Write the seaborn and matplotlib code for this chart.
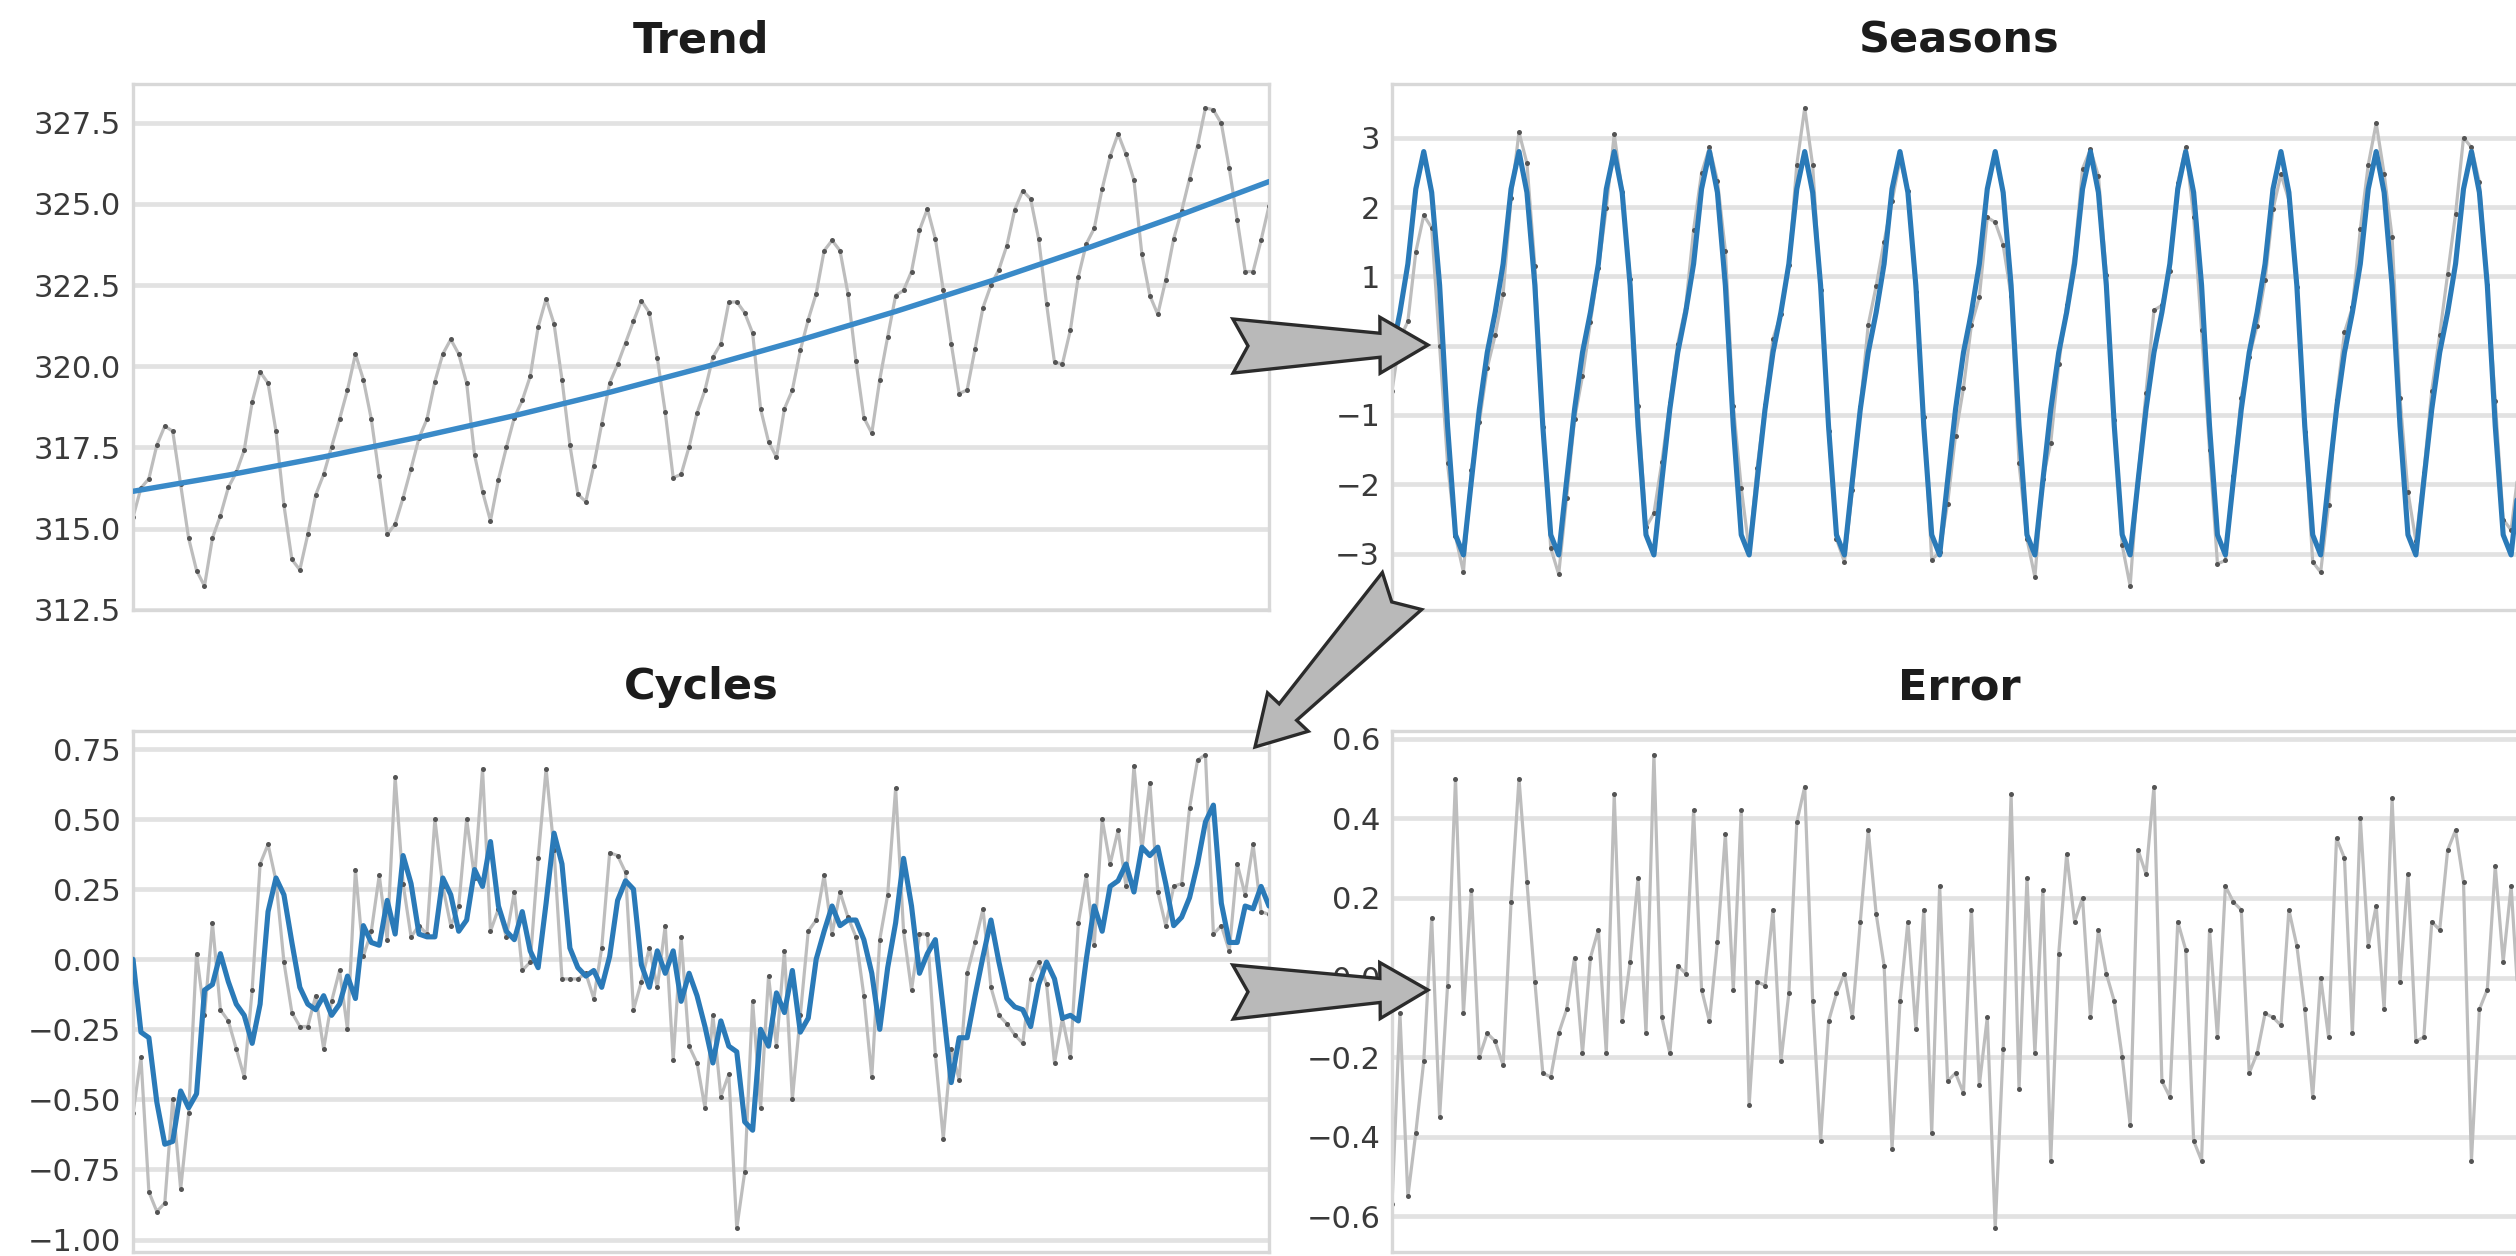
import numpy as np
import pandas as pd
import matplotlib
matplotlib.use("Agg")
import matplotlib.pyplot as plt
import seaborn as sns
from matplotlib.patches import Polygon
from matplotlib.ticker import ScalarFormatter

# ---------------------------------------------------------------- data
# monthly observations (index 0..143)
observed = [
    315.35, 316.25, 316.54, 317.57, 318.16, 318.00, 316.36, 314.71, 313.71, 313.23, 314.71, 315.40,
    316.27, 316.73, 317.42, 318.90, 319.83, 319.48, 318.00, 315.72, 314.05, 313.73, 314.82, 316.04,
    316.67, 317.52, 318.37, 319.27, 320.38, 319.59, 318.37, 316.62, 314.82, 315.14, 315.95, 316.85,
    317.79, 318.37, 319.53, 320.38, 320.83, 320.38, 319.48, 317.26, 316.14, 315.24, 316.51, 317.50,
    318.42, 318.95, 319.69, 321.21, 322.08, 321.31, 319.59, 317.57, 316.06, 315.83, 316.94, 318.23,
    319.48, 320.06, 320.72, 321.39, 322.02, 321.65, 320.25, 318.58, 316.57, 316.67, 317.52, 318.56,
    319.27, 320.28, 320.70, 321.97, 321.99, 321.65, 321.02, 318.69, 317.68, 317.20, 318.69, 319.27,
    320.49, 321.44, 322.24, 323.56, 323.88, 323.56, 322.24, 320.17, 318.42, 317.94, 319.59, 320.91,
    322.18, 322.34, 322.92, 324.19, 324.85, 323.93, 322.34, 320.70, 319.16, 319.27, 320.54, 321.81,
    322.50, 322.98, 323.72, 324.83, 325.41, 325.15, 323.93, 321.92, 320.12, 320.08, 321.12, 322.76,
    323.77, 324.25, 325.47, 326.47, 327.16, 326.53, 325.73, 323.45, 322.18, 321.60, 322.66, 323.93,
    324.78, 325.78, 326.79, 327.96, 327.90, 327.48, 326.10, 324.51, 322.92, 322.92, 323.88, 324.94,
]

# fitted trend, read once a year
trend_months = [0, 12, 24, 36, 48, 60, 72, 84, 96, 108, 120, 132, 143]
trend_values = [316.15, 316.65, 317.21, 317.82, 318.48, 319.20, 319.98,
                320.81, 321.69, 322.63, 323.63, 324.68, 325.69]

# observations minus trend
detrended = [
    -0.65, 0.10, 0.35, 1.35, 1.88, 1.70, 0.00, -1.70, -2.75, -3.27, -1.80, -1.10,
    -0.32, 0.15, 0.75, 2.13, 3.08, 2.63, 1.15, -1.18, -2.92, -3.30, -2.20, -1.06,
    -0.44, 0.34, 1.12, 1.98, 3.05, 2.22, 0.96, -0.87, -2.62, -2.42, -1.68, -0.83,
    0.03, 0.56, 1.67, 2.49, 2.86, 2.38, 1.37, -0.87, -2.05, -2.95, -1.77, -0.86,
    0.10, 0.45, 1.16, 2.61, 3.43, 2.60, 0.80, -1.23, -2.79, -3.12, -2.09, -0.89,
    0.30, 0.86, 1.50, 2.08, 2.68, 2.23, 0.77, -1.03, -3.09, -2.98, -2.28, -1.30,
    -0.61, 0.30, 0.70, 1.85, 1.78, 1.45, 0.72, -1.70, -2.79, -3.34, -1.93, -1.40,
    -0.27, 0.58, 1.32, 2.55, 2.83, 2.45, 1.02, -1.08, -2.88, -3.47, -1.90, -0.68,
    0.51, 0.58, 1.08, 2.35, 2.86, 1.86, 0.22, -1.50, -3.15, -3.10, -1.88, -0.75,
    -0.16, 0.29, 0.95, 1.97, 2.47, 2.10, 0.85, -1.24, -3.12, -3.27, -2.30, -0.78,
    0.19, 0.55, 1.68, 2.61, 3.21, 2.48, 1.57, -0.76, -2.11, -2.82, -1.84, -0.65,
    0.16, 1.03, 1.90, 3.00, 2.86, 2.36, 0.88, -0.80, -2.51, -2.66, -1.72, -0.75,
]

# fitted seasonal component
seasonal = [
    -0.10, 0.48, 1.18, 2.26, 2.80, 2.21, 0.87, -1.16, -2.73, -3.02, -1.95, -0.92,
    -0.10, 0.48, 1.18, 2.26, 2.80, 2.21, 0.87, -1.16, -2.73, -3.02, -1.95, -0.92,
    -0.10, 0.48, 1.18, 2.26, 2.80, 2.21, 0.87, -1.16, -2.73, -3.02, -1.95, -0.92,
    -0.10, 0.48, 1.18, 2.26, 2.80, 2.21, 0.87, -1.16, -2.73, -3.02, -1.95, -0.92,
    -0.10, 0.48, 1.18, 2.26, 2.80, 2.21, 0.87, -1.16, -2.73, -3.02, -1.95, -0.92,
    -0.10, 0.48, 1.18, 2.26, 2.80, 2.21, 0.87, -1.16, -2.73, -3.02, -1.95, -0.92,
    -0.10, 0.48, 1.18, 2.26, 2.80, 2.21, 0.87, -1.16, -2.73, -3.02, -1.95, -0.92,
    -0.10, 0.48, 1.18, 2.26, 2.80, 2.21, 0.87, -1.16, -2.73, -3.02, -1.95, -0.92,
    -0.10, 0.48, 1.18, 2.26, 2.80, 2.21, 0.87, -1.16, -2.73, -3.02, -1.95, -0.92,
    -0.10, 0.48, 1.18, 2.26, 2.80, 2.21, 0.87, -1.16, -2.73, -3.02, -1.95, -0.92,
    -0.10, 0.48, 1.18, 2.26, 2.80, 2.21, 0.87, -1.16, -2.73, -3.02, -1.95, -0.92,
    -0.10, 0.48, 1.18, 2.26, 2.80, 2.21, 0.87, -1.16, -2.73, -3.02, -1.95, -0.92,
]

# residual after trend and season
cycles = [
    -0.55, -0.35, -0.83, -0.90, -0.87, -0.50, -0.82, -0.55, 0.02, -0.20, 0.13, -0.18,
    -0.22, -0.32, -0.42, -0.11, 0.34, 0.41, 0.28, -0.01, -0.19, -0.24, -0.24, -0.13,
    -0.32, -0.15, -0.04, -0.25, 0.32, 0.01, 0.10, 0.30, 0.07, 0.65, 0.27, 0.08,
    0.12, 0.09, 0.50, 0.26, 0.12, 0.19, 0.50, 0.29, 0.68, 0.10, 0.18, 0.08,
    0.24, -0.04, -0.01, 0.36, 0.68, 0.39, -0.07, -0.07, -0.07, -0.05, -0.14, 0.04,
    0.38, 0.37, 0.31, -0.18, -0.08, 0.04, -0.10, 0.12, -0.36, 0.08, -0.31, -0.37,
    -0.53, -0.20, -0.49, -0.41, -0.96, -0.76, -0.15, -0.53, -0.06, -0.31, 0.03, -0.50,
    -0.20, 0.10, 0.14, 0.30, 0.09, 0.24, 0.15, 0.08, -0.13, -0.42, 0.07, 0.23,
    0.61, 0.10, -0.11, 0.09, 0.09, -0.34, -0.64, -0.32, -0.43, -0.05, 0.06, 0.18,
    -0.10, -0.20, -0.23, -0.27, -0.30, -0.07, -0.01, -0.09, -0.37, -0.21, -0.35, 0.13,
    0.30, 0.05, 0.50, 0.34, 0.46, 0.26, 0.69, 0.39, 0.63, 0.24, 0.12, 0.26,
    0.27, 0.54, 0.71, 0.73, 0.09, 0.12, 0.03, 0.34, 0.23, 0.41, 0.17, 0.16,
]

# fitted cycle component
cycles_fit = [
    0.00, -0.26, -0.28, -0.51, -0.66, -0.65, -0.47, -0.53, -0.48, -0.11, -0.09, 0.02,
    -0.08, -0.16, -0.20, -0.30, -0.16, 0.17, 0.29, 0.23, 0.06, -0.10, -0.16, -0.18,
    -0.13, -0.20, -0.16, -0.06, -0.14, 0.12, 0.06, 0.05, 0.21, 0.09, 0.37, 0.27,
    0.09, 0.08, 0.08, 0.29, 0.23, 0.10, 0.14, 0.32, 0.26, 0.42, 0.19, 0.10,
    0.07, 0.17, 0.03, -0.03, 0.20, 0.45, 0.34, 0.04, -0.03, -0.06, -0.04, -0.10,
    0.01, 0.21, 0.28, 0.25, -0.02, -0.10, 0.03, -0.05, 0.03, -0.15, -0.05, -0.13,
    -0.24, -0.37, -0.22, -0.31, -0.33, -0.58, -0.61, -0.25, -0.31, -0.12, -0.19, -0.04,
    -0.26, -0.21, 0.00, 0.10, 0.19, 0.12, 0.14, 0.14, 0.07, -0.05, -0.25, -0.03,
    0.13, 0.36, 0.19, -0.05, 0.02, 0.07, -0.18, -0.44, -0.28, -0.28, -0.13, 0.01,
    0.14, -0.01, -0.14, -0.17, -0.18, -0.24, -0.09, -0.01, -0.07, -0.21, -0.20, -0.22,
    0.00, 0.19, 0.10, 0.26, 0.28, 0.34, 0.24, 0.40, 0.37, 0.40, 0.27, 0.12,
    0.15, 0.22, 0.34, 0.49, 0.55, 0.20, 0.06, 0.06, 0.19, 0.18, 0.26, 0.19,
]

# what is left over
error = [
    -0.57, -0.09, -0.55, -0.39, -0.21, 0.15, -0.35, -0.02, 0.50, -0.09, 0.22, -0.20,
    -0.14, -0.16, -0.22, 0.19, 0.50, 0.24, -0.01, -0.24, -0.25, -0.14, -0.08, 0.05,
    -0.19, 0.05, 0.12, -0.19, 0.46, -0.11, 0.04, 0.25, -0.14, 0.56, -0.10, -0.19,
    0.03, 0.01, 0.42, -0.03, -0.11, 0.09, 0.36, -0.03, 0.42, -0.32, -0.01, -0.02,
    0.17, -0.21, -0.04, 0.39, 0.48, -0.06, -0.41, -0.11, -0.04, 0.01, -0.10, 0.14,
    0.37, 0.16, 0.03, -0.43, -0.06, 0.14, -0.13, 0.17, -0.39, 0.23, -0.26, -0.24,
    -0.29, 0.17, -0.27, -0.10, -0.63, -0.18, 0.46, -0.28, 0.25, -0.19, 0.22, -0.46,
    0.06, 0.31, 0.14, 0.20, -0.10, 0.12, 0.01, -0.06, -0.20, -0.37, 0.32, 0.26,
    0.48, -0.26, -0.30, 0.14, 0.07, -0.41, -0.46, 0.12, -0.15, 0.23, 0.19, 0.17,
    -0.24, -0.19, -0.09, -0.10, -0.12, 0.17, 0.08, -0.08, -0.30, 0.00, -0.15, 0.35,
    0.30, -0.14, 0.40, 0.08, 0.18, -0.08, 0.45, -0.01, 0.26, -0.16, -0.15, 0.14,
    0.12, 0.32, 0.37, 0.24, -0.46, -0.08, -0.03, 0.28, 0.04, 0.23, -0.09, -0.03,
]

months = list(range(len(observed)))

series = pd.DataFrame({
    "month": months,
    "observed": observed,
    "detrended": detrended,
    "seasonal": seasonal,
    "cycles": cycles,
    "cycles_fit": cycles_fit,
    "error": error,
})
trend = pd.DataFrame({"month": trend_months, "trend": trend_values})

# ---------------------------------------------------------------- style
sns.set_theme(style="whitegrid")
plt.rcParams["font.family"] = ["DejaVu Sans"]
plt.rcParams["axes.unicode_minus"] = True

W, H = 2516, 1256
fig = plt.figure(figsize=(W / 100, H / 100), dpi=100, facecolor="white")


def add_panel(left, top, right, bottom):
    return fig.add_axes([left / W, 1 - bottom / H, (right - left) / W, (bottom - top) / H])


ax_trend = add_panel(133, 84, 1269, 610)
ax_season = add_panel(1392, 84, 2527, 610)
ax_cycle = add_panel(133, 731, 1269, 1252)
ax_error = add_panel(1392, 731, 2527, 1252)

GRAY_LINE = dict(color="0.74", linewidth=2.3, marker="o", markersize=3.6,
                 markerfacecolor="0.33", markeredgecolor="0.33", markeredgewidth=0)
BLUE = "#2a7ab8"


def gray_series(ax, col):
    sns.lineplot(data=series, x="month", y=col, ax=ax, zorder=2, **GRAY_LINE)


def style_panel(ax, title, ticks):
    ax.set_xlim(0, len(months) - 1)
    ax.set_yticks(ticks)
    fmt = ScalarFormatter(useOffset=False)
    ax.yaxis.set_major_formatter(fmt)
    ax.set(xlabel="", ylabel="")
    ax.set_facecolor("white")
    ax.grid(axis="y", color="#e2e2e2", linewidth=3.4)
    ax.grid(axis="x", visible=False)
    ax.tick_params(axis="y", labelsize=22, pad=8.5, length=0, labelcolor="#3a3a3a")
    ax.tick_params(axis="x", labelbottom=False, length=0)
    for sp in ax.spines.values():
        sp.set_visible(True)
        sp.set_color("#d8d8d8")
        sp.set_linewidth(2.4)
    ax.set_title(title, fontsize=31, fontweight="bold", pad=23, color="#1c1c1c")


# Trend
gray_series(ax_trend, "observed")
sns.lineplot(data=trend, x="month", y="trend", ax=ax_trend, color="#3a8ac8",
             linewidth=3.9, zorder=3)
style_panel(ax_trend, "Trend", [312.5, 315.0, 317.5, 320.0, 322.5, 325.0, 327.5])

# Seasons
gray_series(ax_season, "detrended")
sns.lineplot(data=series, x="month", y="seasonal", ax=ax_season, color=BLUE,
             linewidth=3.7, zorder=3)
style_panel(ax_season, "Seasons", [-3, -2, -1, 0, 1, 2, 3])

# Cycles
gray_series(ax_cycle, "cycles")
sns.lineplot(data=series, x="month", y="cycles_fit", ax=ax_cycle, color=BLUE,
             linewidth=3.7, zorder=3)
style_panel(ax_cycle, "Cycles", [-1.0, -0.75, -0.5, -0.25, 0.0, 0.25, 0.5, 0.75])

# Error
gray_series(ax_error, "error")
style_panel(ax_error, "Error", [-0.6, -0.4, -0.2, 0.0, 0.2, 0.4, 0.6])


# ---------------------------------------------------------------- arrows
def notched_arrow(tail, tip, tail_w=27, neck_w=12, head_w=28, head_len=48, notch=15):
    """Tapered block arrow with a notched tail, in pixel coordinates (y down)."""
    t = np.array([tail[0], H - tail[1]], dtype=float)
    p = np.array([tip[0], H - tip[1]], dtype=float)
    d = (p - t) / np.linalg.norm(p - t)
    n = np.array([-d[1], d[0]])
    b = p - d * head_len
    pts = [t + n * tail_w, b + n * neck_w, b + n * head_w, p,
           b - n * head_w, b - n * neck_w, t - n * tail_w, t + d * notch]
    pts = [(q[0] / W, q[1] / H) for q in pts]
    poly = Polygon(pts, closed=True, transform=fig.transFigure, facecolor="#b9b9b9",
                   edgecolor="#2b2b2b", linewidth=2.4, joinstyle="miter", zorder=10)
    fig.patches.append(poly)


notched_arrow((1233, 346), (1428, 345))
notched_arrow((1402, 591), (1255, 747))
notched_arrow((1233, 992), (1428, 990))

fig.savefig("out.png", dpi=100, facecolor="white")
